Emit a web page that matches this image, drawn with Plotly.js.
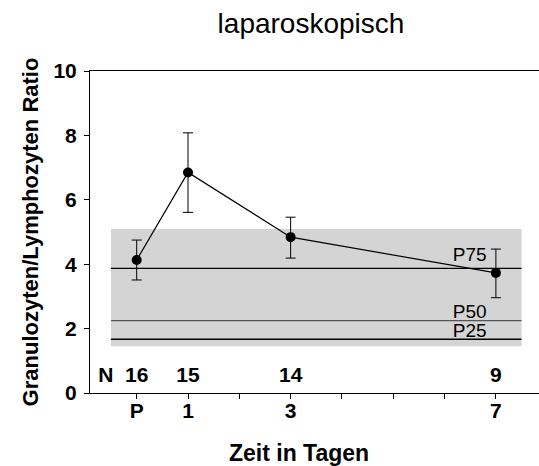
<!DOCTYPE html>
<html>
<head>
<meta charset="utf-8">
<script src="https://cdn.plot.ly/plotly-3.0.1.min.js"></script>
<style>html,body{margin:0;padding:0;background:#fff;}#chart{width:539px;height:466px;}</style>
</head>
<body>
<div id="chart"></div>
<script>
// ---- data ----
var days = [0, 1, 3, 7];
var dayLabels = ["P", "1", "3", "7"];
var means = [4.13, 6.85, 4.84, 3.73];
var upper = [4.75, 8.08, 5.46, 4.47];
var lower = [3.51, 5.61, 4.19, 2.96];
var nCounts = [16, 15, 14, 9];
var percentileNames = ["P75", "P50", "P25"];
var percentileValues = [3.87, 2.25, 1.67];
var percentileLabelY = [4.25, 2.49, 1.90];
var bandRange = [1.45, 5.09];
var bandDays = [-0.5, 7.5];
var yTicks = [0, 2, 4, 6, 8, 10];

var FONT = "Liberation Sans, Arial, sans-serif";

var errPlus = means.map(function (m, i) { return +(upper[i] - m).toFixed(3); });
var errMinus = means.map(function (m, i) { return +(m - lower[i]).toFixed(3); });

var tickVals = [], tickText = [];
for (var d = 0; d <= 7; d++) {
  tickVals.push(d);
  var k = days.indexOf(d);
  tickText.push(k >= 0 ? dayLabels[k] : "");
}

var traces = [
  {
    x: days, y: means, type: "scatter", mode: "lines+markers",
    line: {color: "#000", width: 1.2},
    marker: {color: "#000", size: 10},
    error_y: {type: "data", symmetric: false, array: errPlus, arrayminus: errMinus,
              color: "#000", thickness: 1, width: 5},
    hoverinfo: "skip", showlegend: false
  },
  {
    x: [-0.6].concat(days), y: [0.5, 0.5, 0.5, 0.5, 0.5],
    text: ["N"].concat(nCounts.map(String)),
    type: "scatter", mode: "text", textposition: "middle center",
    textfont: {family: FONT, size: 21, color: "#000", weight: "bold"},
    hoverinfo: "skip", showlegend: false
  },
  {
    x: percentileNames.map(function () { return 6.49; }), y: percentileLabelY,
    text: percentileNames, type: "scatter", mode: "text", textposition: "middle center",
    textfont: {family: FONT, size: 19, color: "#000"},
    hoverinfo: "skip", showlegend: false
  }
];

var shapes = [{
  type: "rect", xref: "x", yref: "y", layer: "below",
  x0: bandDays[0], x1: bandDays[1], y0: bandRange[0], y1: bandRange[1],
  fillcolor: "#d4d4d4", line: {width: 0}
}];
percentileValues.forEach(function (v, i) {
  shapes.push({
    type: "line", xref: "x", yref: "y", layer: "below",
    x0: bandDays[0], x1: bandDays[1], y0: v, y1: v,
    line: {color: percentileNames[i] === "P50" ? "#555" : "#000", width: 1.3}
  });
});

var layout = {
  width: 539, height: 466,
  margin: {l: 90, r: 0, t: 71, b: 73, pad: 0},
  paper_bgcolor: "#fff", plot_bgcolor: "#fff",
  font: {family: FONT, color: "#000"},
  title: {text: "laparoskopisch", font: {family: FONT, size: 28, color: "#000"},
          x: (311 - 90) / 449, xref: "paper", xanchor: "center", y: 0.951, yref: "container", yanchor: "middle"},
  xaxis: {
    range: [-0.91, 7.84], tickmode: "array", tickvals: tickVals, ticktext: tickText,
    ticks: "outside", ticklen: 5, tickwidth: 1, tickcolor: "#000",
    ticklabelstandoff: -6,
    showline: true, linecolor: "#000", linewidth: 1, mirror: true,
    showgrid: false, zeroline: false,
    tickfont: {family: FONT, size: 21, color: "#000", weight: "bold"}
  },
  yaxis: {
    range: [0, 10], tickmode: "array", tickvals: yTicks,
    ticks: "outside", ticklen: 5, tickwidth: 1, tickcolor: "#000",
    ticklabelstandoff: 3,
    showline: true, linecolor: "#000", linewidth: 1,
    showgrid: false, zeroline: false,
    tickfont: {family: FONT, size: 21, color: "#000", weight: "bold"},
    title: {text: "Granulozyten/Lymphozyten Ratio", standoff: 8,
            font: {family: FONT, size: 22, color: "#000", weight: "bold"}}
  },
  annotations: [{
    text: "Zeit in Tagen", xref: "paper", yref: "paper",
    x: (299 - 90) / 449, y: -(452.5 - 393) / 322, xanchor: "center", yanchor: "middle",
    showarrow: false, font: {family: FONT, size: 23, color: "#000", weight: "bold"}
  }],
  shapes: shapes,
  showlegend: false
};

Plotly.newPlot("chart", traces, layout, {displayModeBar: false, staticPlot: true});
</script>
</body>
</html>
